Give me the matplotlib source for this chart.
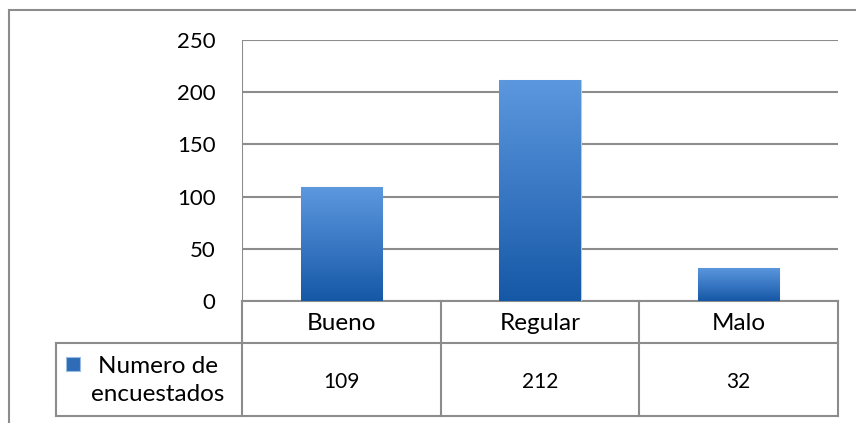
import matplotlib
matplotlib.use("Agg")
import matplotlib.pyplot as plt
import numpy as np
from matplotlib.colors import LinearSegmentedColormap
from matplotlib.transforms import blended_transform_factory

categories = ["Bueno", "Regular", "Malo"]
values = [109, 212, 32]
series_name = "Numero de\nencuestados"
yticks = [0, 50, 100, 150, 200, 250]

W, H = 856, 423
plt.rcParams['font.family'] = ['Lato', 'DejaVu Sans']
fig = plt.figure(figsize=(W / 100, H / 100), dpi=100)

# overlay in pixel coordinates for frame and table
ov = fig.add_axes([0, 0, 1, 1])
ov.set_xlim(0, W)
ov.set_ylim(H, 0)
ov.axis("off")

x0, x1 = 242, 838
ytop, ybot = 40, 301
ax = fig.add_axes([x0 / W, (H - ybot) / H, (x1 - x0) / W, (ybot - ytop) / H])
ax.set_xlim(0, len(categories))
ax.set_ylim(0, 250)
ax.set_facecolor("none")
for s in ax.spines.values():
    s.set_visible(False)
ax.set_xticks([])
ax.set_yticks(yticks)
ax.set_yticklabels([str(t) for t in yticks], fontsize=16)
ax.tick_params(axis="y", length=0, pad=19)
gc = "#8c8c8c"
for t in yticks:
    ax.axhline(t, color=gc, lw=1.5, zorder=1)
ax.axvline(0, color=gc, lw=1.5, zorder=1)

cmap = LinearSegmentedColormap.from_list("g", ["#1558a6", "#3a78c4", "#5b98de"])
grad = np.linspace(0, 1, 256).reshape(-1, 1)
xs = np.arange(len(categories)) + 0.5
bw = 0.41
bars = ax.bar(xs, values, width=bw, color="#3a78c4", zorder=2,
              edgecolor="#c8c8c8", linewidth=0.8)
for b in bars:
    bx, by = b.get_x(), b.get_y()
    bwid, bh = b.get_width(), b.get_height()
    im = ax.imshow(grad, cmap=cmap, origin="lower", aspect="auto",
                   extent=[bx, bx + bwid, by, by + bh], zorder=3)
    im.set_clip_path(b)
ax.set_xlim(0, len(categories))
ax.set_ylim(0, 250)

# frame
fc = "#8c8c8c"
ov.plot([9, W], [10, 10], color=fc, lw=1.5)
ov.plot([9, 9], [10, H], color=fc, lw=1.5)

# table
r0, r1, r2 = 301, 343, 416
lx = 56
ov.plot([x0, x1], [r0, r0], color=gc, lw=1.5)
ov.plot([lx, x1], [r1, r1], color=gc, lw=1.5)
ov.plot([lx, x1], [r2, r2], color=gc, lw=1.5)
ov.plot([lx, lx], [r1, r2], color=gc, lw=1.5)
bt = blended_transform_factory(ax.transData, ov.transData)
for i in range(len(categories) + 1):
    ov.plot([i, i], [r0, r2], color=gc, lw=1.5, transform=bt)
for x, c, v in zip(xs, categories, values):
    ov.text(x, (r0 + r1) / 2 + 1, c, transform=bt, ha="center", va="center", fontsize=17.5)
    ov.text(x, (r1 + r2) / 2 + 2, str(v), transform=bt, ha="center", va="center", fontsize=15)

ov.add_patch(plt.Rectangle((66, 357), 14, 14, facecolor="#2e6cb8", edgecolor="#9bbbe0", lw=0.8))
ov.text(158, (r1 + r2) / 2 + 1, series_name, ha="center", va="center", fontsize=17.5,
        linespacing=1.4)

fig.savefig("out.png", dpi=100)
